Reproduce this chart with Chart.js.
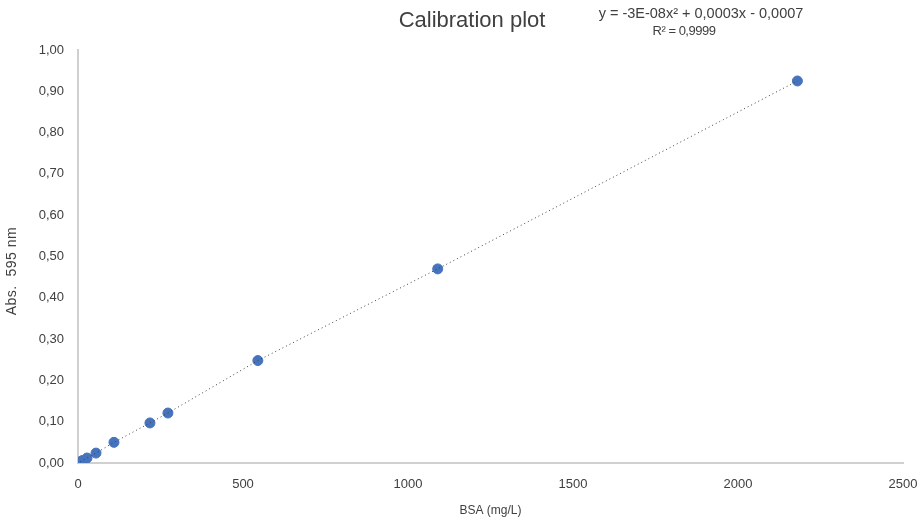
<!DOCTYPE html>
<html>
<head>
<meta charset="utf-8">
<script src="https://cdn.jsdelivr.net/npm/chart.js@4.4.1/dist/chart.umd.min.js"></script>
<style>
  body { margin: 0; background: #fff; }
  #wrap { position: relative; width: 919px; height: 525px; }
  .txt {
    position: absolute; text-align: center; white-space: nowrap;
    font-family: "Liberation Sans", Arial, sans-serif; color: #404040;
  }
  #title { left: 372px; top: 7px; width: 200px; font-size: 22px; }
  #eq1 { left: 571px; top: 5px; width: 260px; font-size: 14.5px; }
  #eq2 { left: 584px; top: 23px; width: 200px; font-size: 13px; letter-spacing: -0.5px; }
  #ytitle {
    left: -38px; top: 262px; width: 100px; height: 18px; font-size: 14px;
    letter-spacing: 0.5px; transform: rotate(-90deg); transform-origin: 50% 50%;
  }
</style>
</head>
<body>
<div id="wrap">
  <canvas id="myChart" width="919" height="525"></canvas>
  <div class="txt" id="title">Calibration plot</div>
  <div class="txt" id="eq1">y = -3E-08x² + 0,0003x - 0,0007</div>
  <div class="txt" id="eq2">R² = 0,9999</div>
  <div class="txt" id="ytitle">Abs.&nbsp; 595 nm</div>
</div>
<script>
// BSA standards (mg/L) and absorbance at 595 nm
const bsa = [6.8, 13.6, 27.3, 54.5, 109, 218, 272.5, 545, 1090, 2180];
const absorbance = [0.003, 0.006, 0.012, 0.024, 0.05, 0.097, 0.121, 0.248, 0.47, 0.925];
const xTicks = [0, 500, 1000, 1500, 2000, 2500];
const yTicks = [0, 0.1, 0.2, 0.3, 0.4, 0.5, 0.6, 0.7, 0.8, 0.9, 1.0];

const points = bsa.map((x, i) => ({ x: x, y: absorbance[i] }));

const tickFont = { family: "Liberation Sans", size: 13 };

const ctx = document.getElementById('myChart');

new Chart(ctx, {
  type: 'scatter',
  data: {
    datasets: [{
      label: 'trend',
      data: points,
      showLine: true,
      borderColor: '#404040',
      borderWidth: 1,
      borderDash: [1, 3],
      pointRadius: 0,
      order: 0
    }, {
      label: 'BSA',
      data: points,
      backgroundColor: '#4673bd',
      borderColor: '#4673bd',
      pointRadius: 5,
      order: 1
    }]
  },
  options: {
    responsive: false,
    animation: false,
    layout: { padding: { left: 0, right: 16, top: 50, bottom: 0 } },
    plugins: {
      legend: { display: false },
      tooltip: { enabled: false }
    },
    scales: {
      x: {
        type: 'linear',
        min: 0,
        max: 2500,
        afterBuildTicks: (axis) => { axis.ticks = xTicks.map(v => ({ value: v })); },
        afterFit: (axis) => { axis.height = 62; axis.paddingLeft = 0; axis.paddingRight = 0; },
        grid: { display: false, drawTicks: false },
        border: { display: true, color: '#d0d0d0', width: 2 },
        ticks: {
          padding: 14,
          color: '#404040',
          font: tickFont,
          callback: (v) => String(v)
        },
        title: {
          display: true,
          text: 'BSA (mg/L)',
          color: '#404040',
          font: { family: "Liberation Sans", size: 12 },
          padding: { top: 4, bottom: 7 }
        }
      },
      y: {
        min: 0,
        max: 1,
        afterBuildTicks: (axis) => { axis.ticks = yTicks.map(v => ({ value: v })); },
        afterFit: (axis) => { axis.width = 78; axis.paddingTop = 0; axis.paddingBottom = 0; },
        grid: { display: false, drawTicks: false },
        border: { display: true, color: '#d0d0d0', width: 2 },
        ticks: {
          padding: 14,
          color: '#404040',
          font: tickFont,
          callback: (v) => v.toFixed(2).replace('.', ',')
        }
      }
    }
  }
});
</script>
</body>
</html>
